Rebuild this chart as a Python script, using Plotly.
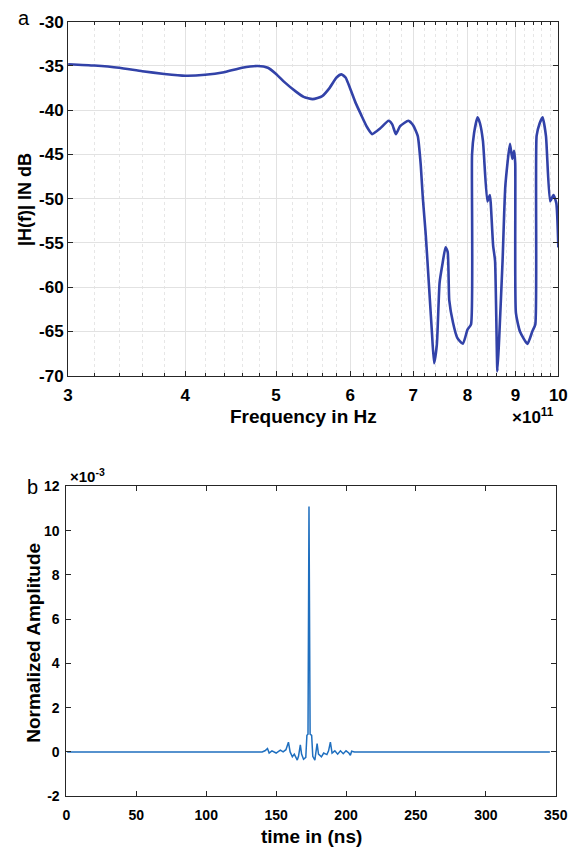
import plotly.graph_objects as go

# ---------------- data: panel a (frequency response) ----------------
freq_e11 = [3.00, 3.20, 3.40, 3.60, 3.80, 4.00, 4.20, 4.40, 4.60, 4.78, 4.90, 5.00, 5.10, 5.25,
            5.35, 5.47, 5.60, 5.70, 5.80, 5.87, 5.93, 6.00, 6.08, 6.16, 6.25, 6.33, 6.45, 6.59,
            6.65, 6.71, 6.78, 6.92, 7.00, 7.08, 7.13, 7.17, 7.22, 7.28, 7.33, 7.37, 7.42, 7.47,
            7.52, 7.58, 7.62, 7.65, 7.72, 7.80, 7.91, 8.00, 8.07, 8.09, 8.13, 8.20, 8.25, 8.31,
            8.40, 8.45, 8.47, 8.52, 8.56, 8.61, 8.65, 8.72, 8.78, 8.88, 8.93, 8.97, 8.995, 9.01,
            9.10, 9.27, 9.38, 9.45, 9.48, 9.55, 9.62, 9.70, 9.80, 9.88, 9.95, 10.00]
h_db = [-34.8, -34.95, -35.2, -35.6, -35.9, -36.1, -36.0, -35.7, -35.2, -35.0, -35.2, -35.9, -36.8, -37.9,
        -38.5, -38.75, -38.4, -37.5, -36.3, -35.95, -36.3, -37.6, -39.2, -40.5, -41.9, -42.7, -42.1, -41.2,
        -41.6, -42.7, -41.8, -41.2, -41.7, -42.9, -46.0, -50.0, -54.0, -60.0, -65.0, -68.6, -66.5, -59.5,
        -57.5, -55.5, -56.0, -61.5, -64.0, -65.7, -66.4, -64.8, -64.2, -45.0, -42.6, -40.8, -41.5, -43.5,
        -50.3, -49.6, -50.5, -55.3, -57.0, -69.5, -65.5, -57.0, -48.5, -43.8, -45.5, -44.6, -46.0, -62.9,
        -65.0, -66.4, -65.0, -64.2, -42.9, -41.5, -40.8, -42.9, -50.3, -49.6, -50.5, -55.5]

x_major_e11 = [3, 4, 5, 6, 7, 8, 9, 10]
x_minor_e11 = [3.2, 3.4, 3.6, 3.8, 4.2, 4.4, 4.6, 4.8, 5.2, 5.4, 5.6, 5.8, 6.2, 6.4, 6.6, 6.8,
               7.2, 7.4, 7.6, 7.8, 8.2, 8.4, 8.6, 8.8, 9.2, 9.4, 9.6, 9.8]
y_ticks_a = [-70, -65, -60, -55, -50, -45, -40, -35, -30]

# ---------------- data: panel b (impulse response) ----------------
time_ns = [0.5, 30, 60, 90, 120, 140, 142, 143.8, 145, 147,
           150, 153, 155, 157, 158.8, 160, 161.6, 163, 165.1, 166, 167.3, 168.2, 169.6, 171.2,
           172.0, 172.8, 173.5, 174.3, 175.4, 176.2, 177.7, 179.3, 180.3, 182.4, 184, 186.3, 187.5,
           188.8, 190, 192, 194, 196, 198, 200, 202, 203.1, 204, 206, 240, 280, 320, 345.8]
amp_e3 = [0.0, 0.0, 0.0, 0.0, 0.0, 0.0,
          0.05, 0.15, -0.05, 0.05, -0.05, 0.08, 0.0, 0.1, 0.44, 0.0, -0.22, -0.1, -0.37, -0.2,
          0.32, -0.1, -0.33, -0.25, 0.75, 0.8, 11.1, 0.8, 0.75, -0.2, -0.37, 0.37, -0.1, -0.22,
          -0.05, -0.12, 0.05, 0.44, -0.05, 0.05, -0.1, 0.05, -0.08, 0.05, -0.05, -0.15, 0.03, 0.0,
          0.0, 0.0, 0.0, 0.0]
x_ticks_b = [0, 50, 100, 150, 200, 250, 300, 350]
y_ticks_b = [-2, 0, 2, 4, 6, 8, 10, 12]

# ---------------- figure ----------------
W, H = 582, 857
def px(x):
    return x / W
def py(y):
    return 1 - y / H

FONT = "Liberation Sans, Arial, Helvetica, sans-serif"

fig = go.Figure()
fig.add_trace(go.Scatter(
    x=[f * 1e11 for f in freq_e11], y=h_db, mode="lines",
    line=dict(color="#3242a8", width=2.6, shape="spline", smoothing=0.5),
    xaxis="x", yaxis="y", showlegend=False))
fig.add_trace(go.Scatter(
    x=time_ns, y=[a * 1e-3 for a in amp_e3], mode="lines",
    line=dict(color="#1f6fbf", width=1.5), xaxis="x2", yaxis="y2", showlegend=False))

axis_common = dict(showline=True, linecolor="#262626", linewidth=1, mirror="ticks",
                   ticks="inside", tickcolor="#262626", zeroline=False)

fig.update_layout(
    width=W, height=H,
    margin=dict(l=0, r=0, t=0, b=0),
    paper_bgcolor="white", plot_bgcolor="white",
    font=dict(family=FONT, color="black"),
    xaxis=dict(
        axis_common, type="log", domain=[px(65), px(570)],
        range=[11.4771213, 12.0], anchor="y",
        tickmode="array", tickvals=[v * 1e11 for v in x_major_e11],
        ticktext=[str(v) for v in x_major_e11], ticklen=5, ticklabelstandoff=4,
        tickfont=dict(size=17, family=FONT, weight="bold"),
        showgrid=True, gridcolor="#e2e2e2", gridwidth=1,
        minor=dict(tickmode="array", tickvals=[v * 1e11 for v in x_minor_e11],
                   ticks="inside", ticklen=3, tickcolor="#262626",
                   showgrid=True, gridcolor="#e6e6e6", griddash="dot", gridwidth=1),
    ),
    yaxis=dict(
        axis_common, domain=[py(375), py(13)], range=[-70, -30], anchor="x",
        tickmode="array", tickvals=y_ticks_a, ticktext=[str(v) for v in y_ticks_a],
        ticklen=5, tickfont=dict(size=17, family=FONT, weight="bold"),
        showgrid=True, gridcolor="#e2e2e2", gridwidth=1,
    ),
    xaxis2=dict(
        axis_common, domain=[px(63.3), px(567.3)], range=[0, 350], anchor="y2",
        tickmode="array", tickvals=x_ticks_b, ticktext=[str(v) for v in x_ticks_b],
        ticklen=5, ticklabelstandoff=6,
        tickfont=dict(size=14, family=FONT, weight="bold"), showgrid=False,
    ),
    yaxis2=dict(
        axis_common, domain=[py(805), py(488.3)], range=[-2e-3, 12e-3], anchor="x2",
        tickmode="array", tickvals=[v * 1e-3 for v in y_ticks_b],
        ticktext=[str(v) for v in y_ticks_b], ticklabelstandoff=3,
        ticklen=5, tickfont=dict(size=14, family=FONT, weight="bold"), showgrid=False,
    ),
)

annots = [
    dict(text="a", x=px(20), y=py(9), font=dict(size=20)),
    dict(text="|H(f)| IN dB", x=px(20), y=py(195), textangle=-90,
         font=dict(size=18, weight="bold")),
    dict(text="Frequency in Hz", x=px(307), y=py(417), font=dict(size=19, weight="bold")),
    dict(text="×10<sup>11</sup>", x=px(544), y=py(416), font=dict(size=17, weight="bold")),
    dict(text="b", x=px(28), y=py(489), font=dict(size=20)),
    dict(text="×10<sup>-3</sup>", x=px(85), y=py(477), font=dict(size=15, weight="bold")),
    dict(text="Normalized Amplitude", x=px(30), y=py(648), textangle=-90,
         font=dict(size=19, weight="bold")),
    dict(text="time in (ns)", x=px(316), y=py(846), font=dict(size=19, weight="bold")),
]
for a in annots:
    a.update(xref="paper", yref="paper", showarrow=False, xanchor="center", yanchor="middle")
    a["font"] = dict(family=FONT, color="black", **a["font"])
fig.update_layout(annotations=annots)

fig.write_html("out.html")
